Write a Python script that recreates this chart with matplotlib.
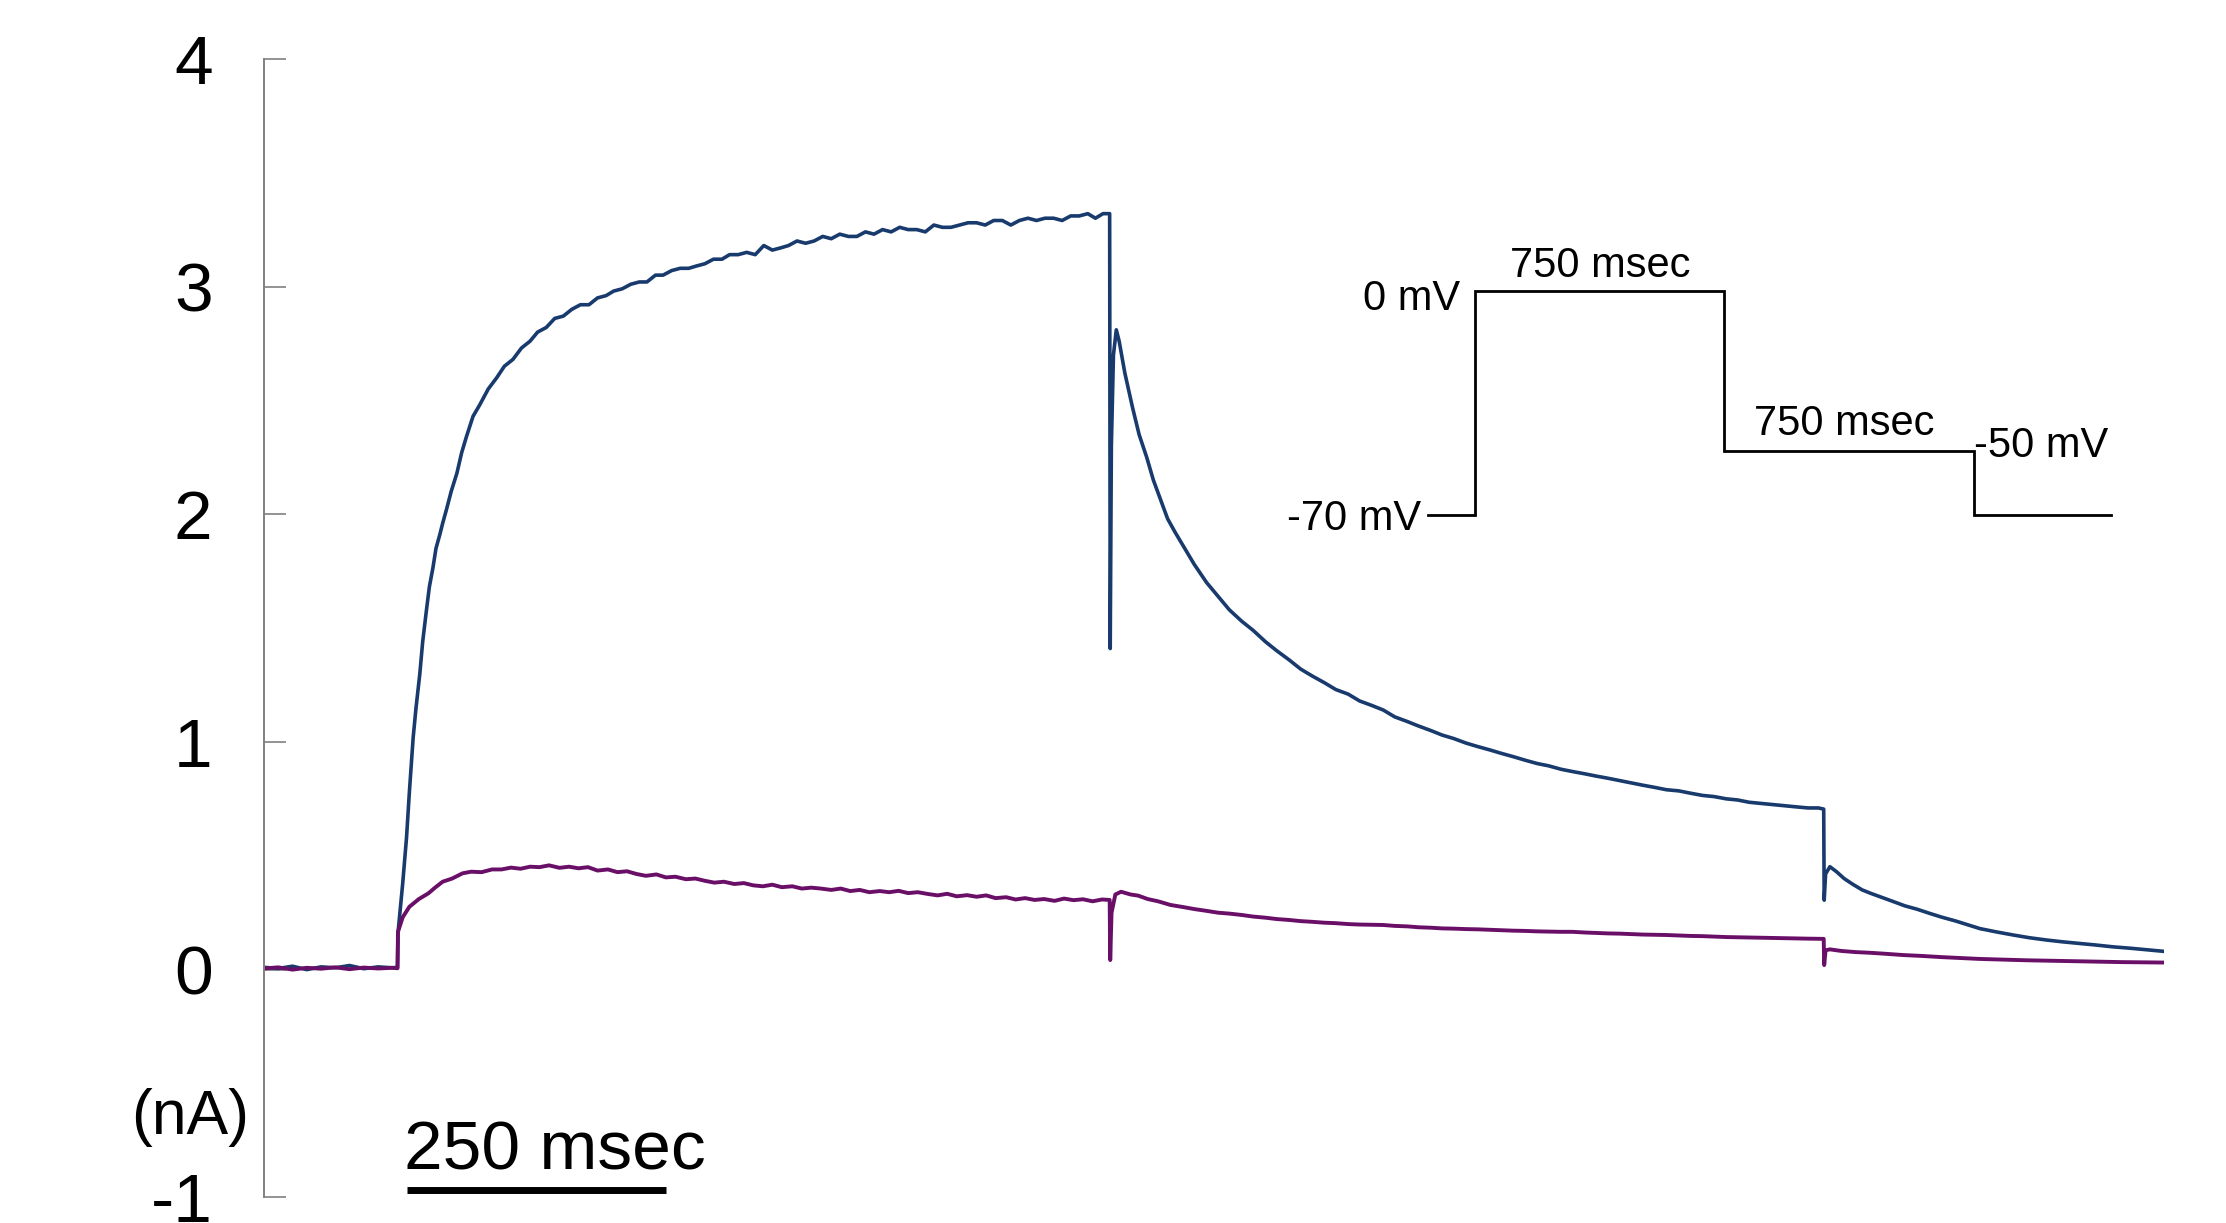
import matplotlib
matplotlib.use("Agg")
import matplotlib.pyplot as plt

plt.rcParams["font.family"] = ["Liberation Sans", "DejaVu Sans"]

# ── Data (time in msec, current in nA) ─────────────────────────────────────────
blue_t = [0, 15, 30, 45, 60, 75, 90, 105, 120, 135, 140.5, 141, 143, 146, 150, 153, 157,
          160, 164, 167, 171, 174, 178, 181, 185, 188, 192, 197, 203, 208, 213, 220, 227,
          236, 245, 253, 262, 271, 280, 288, 297, 306, 315, 324, 333, 342, 351, 360, 368,
          377, 386, 395, 403, 412, 420, 429, 438, 447, 455, 464, 473, 482, 490, 499, 508,
          517, 526, 535, 544, 552, 561, 570, 579, 588, 597, 606, 615, 624, 633, 642, 651,
          660, 669, 678, 687, 696, 705, 714, 723, 732, 741, 750, 759, 768, 777, 786, 795,
          804, 813, 822, 831, 840, 849, 858, 867, 875, 883, 890, 890.6, 891.8, 894, 897,
          900, 906, 914, 921, 929, 936, 944, 951, 959, 969, 979, 992, 1004, 1016, 1029,
          1041, 1054, 1066, 1079, 1091, 1103, 1116, 1128, 1141, 1153, 1166, 1178, 1190,
          1203, 1215, 1228, 1240, 1252, 1265, 1277, 1290, 1302, 1315, 1327, 1340, 1352,
          1365, 1377, 1390, 1402, 1415, 1427, 1439, 1451, 1464, 1476, 1489, 1501, 1514,
          1526, 1539, 1551, 1563, 1575, 1588, 1600, 1612, 1625, 1636, 1641.5, 1642, 1643.5,
          1648, 1655, 1663, 1672, 1682, 1691, 1701, 1714, 1727, 1740, 1753, 1766, 1780,
          1793, 1806, 1824, 1841, 1858, 1876, 1893, 1911, 1928, 1946, 1964, 1982, 2000]
blue_i = [0.01, 0.005, 0.015, 0.0, 0.012, 0.008, 0.018, 0.004, 0.012, 0.008, 0.01, 0.16,
          0.25, 0.38, 0.58, 0.78, 1.02, 1.15, 1.30, 1.44, 1.58, 1.68, 1.77, 1.85, 1.91, 1.96,
          2.02, 2.10, 2.18, 2.27, 2.34, 2.43, 2.48, 2.55, 2.60, 2.65, 2.68, 2.73, 2.76, 2.80,
          2.82, 2.86, 2.87, 2.90, 2.92, 2.92, 2.95, 2.96, 2.98, 2.99, 3.01, 3.02, 3.02, 3.05,
          3.05, 3.07, 3.08, 3.08, 3.09, 3.10, 3.12, 3.12, 3.14, 3.14, 3.15, 3.14, 3.18, 3.16,
          3.17, 3.18, 3.20, 3.19, 3.20, 3.22, 3.21, 3.23, 3.22, 3.22, 3.24, 3.23, 3.25, 3.24,
          3.26, 3.25, 3.25, 3.24, 3.27, 3.26, 3.26, 3.27, 3.28, 3.28, 3.27, 3.29, 3.29, 3.27,
          3.29, 3.30, 3.29, 3.30, 3.30, 3.29, 3.31, 3.31, 3.32, 3.30, 3.32, 3.32, 1.41, 2.30,
          2.70, 2.81, 2.76, 2.62, 2.47, 2.35, 2.25, 2.15, 2.06, 1.98, 1.92, 1.85, 1.78, 1.70,
          1.64, 1.58, 1.53, 1.49, 1.44, 1.40, 1.36, 1.32, 1.29, 1.26, 1.23, 1.21, 1.18, 1.16,
          1.14, 1.11, 1.09, 1.07, 1.05, 1.03, 1.015, 0.995, 0.98, 0.965, 0.95, 0.935, 0.92,
          0.905, 0.895, 0.88, 0.87, 0.86, 0.85, 0.84, 0.83, 0.82, 0.81, 0.80, 0.79, 0.785,
          0.775, 0.765, 0.76, 0.75, 0.745, 0.735, 0.73, 0.725, 0.72, 0.715, 0.71, 0.71, 0.705,
          0.305, 0.42, 0.452, 0.43, 0.40, 0.375, 0.35, 0.335, 0.32, 0.30, 0.28, 0.265, 0.247,
          0.23, 0.214, 0.197, 0.18, 0.165, 0.152, 0.14, 0.13, 0.122, 0.115, 0.108, 0.10,
          0.094, 0.087, 0.08]

purple_t = [0, 15, 30, 45, 60, 75, 90, 105, 120, 135, 140.5, 141, 146, 153, 163, 173, 180,
            188, 198, 209, 218, 229, 240, 250, 260, 270, 280, 290, 300, 311, 321, 331, 341,
            351, 362, 372, 382, 392, 402, 413, 423, 433, 444, 454, 464, 474, 484, 495, 505,
            515, 525, 535, 545, 556, 566, 576, 586, 597, 607, 617, 627, 637, 648, 658, 668,
            678, 688, 699, 709, 719, 729, 740, 750, 760, 770, 781, 791, 801, 811, 821, 832,
            842, 852, 862, 872, 882, 890, 890.6, 892, 896, 902, 912, 920, 930, 941, 954, 967,
            979, 992, 1004, 1016, 1029, 1041, 1054, 1066, 1079, 1091, 1103, 1116, 1128, 1141,
            1153, 1166, 1178, 1190, 1203, 1215, 1228, 1240, 1252, 1265, 1277, 1290, 1302,
            1315, 1327, 1340, 1352, 1365, 1377, 1390, 1402, 1415, 1427, 1439, 1451, 1464,
            1476, 1489, 1501, 1514, 1526, 1539, 1551, 1563, 1575, 1588, 1600, 1612, 1625,
            1641.5, 1642, 1643.5, 1648, 1660, 1675, 1690, 1705, 1725, 1745, 1765, 1785, 1805,
            1830, 1855, 1880, 1905, 1930, 1955, 1980, 2000]
purple_i = [0.005, 0.01, 0.0, 0.008, 0.004, 0.01, 0.002, 0.009, 0.005, 0.008, 0.006, 0.166,
            0.23, 0.276, 0.31, 0.335, 0.36, 0.386, 0.40, 0.423, 0.43, 0.428, 0.44, 0.44, 0.448,
            0.443, 0.452, 0.45, 0.458, 0.447, 0.452, 0.445, 0.45, 0.435, 0.44, 0.428, 0.432,
            0.42, 0.412, 0.418, 0.405, 0.408, 0.397, 0.40, 0.39, 0.382, 0.386, 0.376, 0.38,
            0.37, 0.366, 0.373, 0.362, 0.366, 0.356, 0.36, 0.356, 0.35, 0.356, 0.345, 0.35,
            0.34, 0.345, 0.34, 0.346, 0.336, 0.34, 0.332, 0.326, 0.333, 0.322, 0.327, 0.32,
            0.326, 0.314, 0.318, 0.308, 0.314, 0.306, 0.31, 0.302, 0.312, 0.305, 0.309, 0.3,
            0.308, 0.306, 0.042, 0.25, 0.33, 0.342, 0.33, 0.325, 0.31, 0.30, 0.284, 0.275,
            0.266, 0.258, 0.25, 0.246, 0.24, 0.233, 0.228, 0.222, 0.218, 0.213, 0.21, 0.206,
            0.204, 0.20, 0.198, 0.197, 0.196, 0.192, 0.19, 0.186, 0.184, 0.181, 0.18, 0.178,
            0.177, 0.175, 0.173, 0.171, 0.17, 0.168, 0.167, 0.166, 0.166, 0.163, 0.161, 0.159,
            0.158, 0.156, 0.154, 0.153, 0.152, 0.15, 0.148, 0.147, 0.145, 0.143, 0.142, 0.141,
            0.14, 0.139, 0.138, 0.137, 0.136, 0.135, 0.02, 0.085, 0.089, 0.082, 0.077, 0.074,
            0.07, 0.064, 0.06, 0.055, 0.051, 0.047, 0.044, 0.041, 0.039, 0.037, 0.035, 0.033,
            0.032, 0.031]

y_ticks = [-1, 0, 1, 2, 3, 4]

# voltage protocol (inset)
proto_t = [0, 140, 140, 890, 890, 1640, 1640, 2050]
proto_v = [-70, -70, 0, 0, -50, -50, -70, -70]

scale_bar_t = [150, 423]     # drawn length of the time scale bar
scale_bar_y = -0.966

BLUE = "#183a6d"
PURPLE = "#6a0f68"
GREY = "#808080"

# ── Figure ─────────────────────────────────────────────────────────────────────
fig = plt.figure(figsize=(22.26, 12.23), dpi=100)
ax = fig.add_axes([0.1186, 0.0210, 0.8537, 0.9309])

ax.plot(blue_t, blue_i, color=BLUE, lw=2.6, solid_joinstyle="round")
ax.plot(purple_t, purple_i, color=PURPLE, lw=2.8, solid_joinstyle="round")

ax.set_xlim(0, 2000)
ax.set_ylim(-1, 4)
for side in ["top", "right", "bottom"]:
    ax.spines[side].set_visible(False)
ax.spines["left"].set_color(GREY)
ax.spines["left"].set_linewidth(1.4)
ax.set_xticks([])
ax.set_yticks(y_ticks)
ax.set_yticklabels([str(v) for v in y_ticks])
ax.tick_params(axis="y", direction="in", length=16, width=1.2, color=GREY,
               pad=37, labelsize=50)

ax.text(-78, -0.722, "(nA)", fontsize=45, ha="center", va="baseline", clip_on=False)

# scale bar
ax.plot(scale_bar_t, [scale_bar_y, scale_bar_y], color="black", lw=5,
        solid_capstyle="butt", clip_on=False)
ax.text(147, -0.88, "250 msec", fontsize=50, ha="left", va="baseline", clip_on=False)

# ── Inset: voltage protocol ───────────────────────────────────────────────────
ins = fig.add_axes([0.6415, 0.5789, 0.3068, 0.1832])
ins.plot(proto_t, proto_v, color="black", lw=2.0, clip_on=False,
         solid_joinstyle="miter")
ins.set_xlim(0, 2050)
ins.set_ylim(-70, 0)
ins.axis("off")

fs = 30
ins.text(-21, -74.7, "-70 mV", fontsize=fs, ha="right", va="baseline")
ins.text(96, -5.9, "0 mV", fontsize=fs, ha="right", va="baseline")
ins.text(516, 4.4, "750 msec", fontsize=fs, ha="center", va="baseline")
ins.text(1251, -45, "750 msec", fontsize=fs, ha="center", va="baseline")
ins.text(1640, -51.9, "-50 mV", fontsize=fs, ha="left", va="baseline")

fig.savefig("out.png", dpi=100)
